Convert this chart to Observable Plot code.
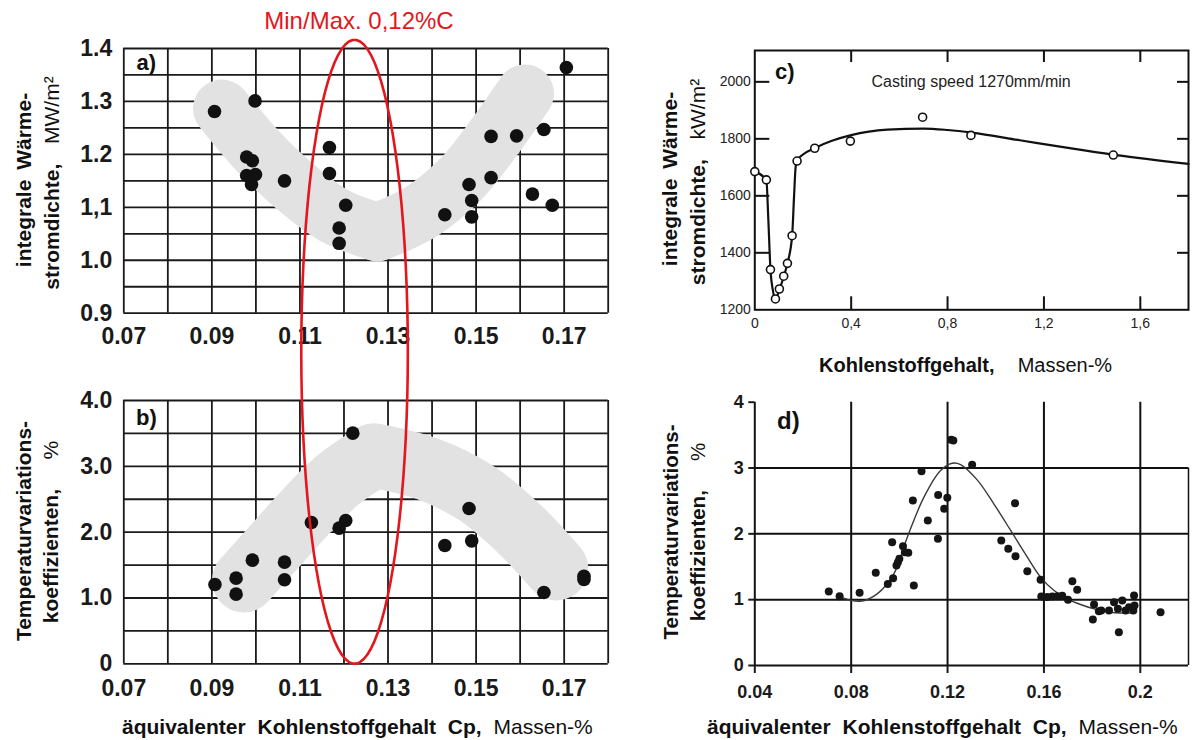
<!DOCTYPE html>
<html><head><meta charset="utf-8">
<script src="https://cdn.jsdelivr.net/npm/d3@7"></script>
<script src="https://cdn.jsdelivr.net/npm/@observablehq/plot@0.6"></script>
<style>
body{margin:0;background:#fff;font-family:"Liberation Sans",Arial,sans-serif;}
#root{position:relative;width:1197px;height:740px;overflow:hidden;background:#fff;}
.pan{position:absolute;}
.lbl{position:absolute;white-space:nowrap;color:#111;font-family:"Liberation Sans",Arial,sans-serif;}
</style></head><body><div id="root"></div><script>
// ---------- panel a ----------
const aX = [0.0906,0.0998,0.0979,0.0992,0.0979,0.0999,0.0990,0.1065,0.1167,0.1167,0.1204,0.1189,0.1189,0.1429,0.1484,0.1490,0.1490,0.1534,0.1534,0.1592,0.1654,0.1628,0.1673,0.1705];
const aY = [1.281,1.301,1.195,1.188,1.160,1.162,1.143,1.150,1.213,1.164,1.104,1.061,1.032,1.086,1.143,1.113,1.082,1.234,1.156,1.235,1.247,1.125,1.104,1.364];
const aBandLeftX = [0.0923,0.1003,0.1086,0.1177,0.1276];
const aBandLeftY = [1.2865,1.2077,1.1415,1.0847,1.053];
const aBandRightX = [0.1276,0.1374,0.1465,0.1541,0.1611];
const aBandRightY = [1.053,1.091,1.153,1.232,1.315];
const aYTicks = [0.9,1.0,1.1,1.2,1.3,1.4];
const aYTickLabels = ["0.9","1.0","1,1","1.2","1.3","1.4"];
const aGridY = [0.9,0.95,1.0,1.05,1.1,1.15,1.2,1.25,1.3,1.35,1.4];
// ---------- panel b ----------
const bX = [0.0907,0.0955,0.0955,0.0992,0.1065,0.1065,0.1126,0.1189,0.1204,0.1220,0.1429,0.1484,0.1490,0.1654,0.1745,0.1745];
const bY = [1.205,1.301,1.058,1.575,1.544,1.276,2.147,2.061,2.177,3.504,1.797,2.359,1.868,1.084,1.33,1.28];
const bBandLeftX = [0.0973,0.1041,0.1109,0.1185,0.1268];
const bBandLeftY = [1.266,1.772,2.278,2.785,3.165];
const bBandRightX = [0.1268,0.1389,0.1503,0.1602,0.1682];
const bBandRightY = [3.165,2.962,2.582,2.025,1.448];
const bYTicks = [0,1,2,3,4];
const bYTickLabels = ["0","1.0","2.0","3.0","4.0"];
const bGridY = [0,0.5,1,1.5,2,2.5,3,3.5,4];
// shared x of a/b
const abXTicks = [0.07,0.09,0.11,0.13,0.15,0.17];
const abXTickLabels = ["0.07","0.09","0.11","0.13","0.15","0.17"];
const abGridX = [0.07,0.08,0.09,0.10,0.11,0.12,0.13,0.14,0.15,0.16,0.17,0.18];
// red Min/Max ellipse (x in carbon %, y in panel-b units)
const ellipseCenterX = 0.1224, ellipseHalfWidth = 0.0121, ellipseBottom = 0, ellipseTop = 9.48;
// ---------- panel c ----------
const cX = [0,0.048,0.065,0.0857,0.102,0.120,0.1354,0.1548,0.1755,0.2488,0.3966,0.6965,0.897,1.488];
const cY = [1685,1656,1341,1238,1273,1318,1363,1460,1722,1767,1792,1876,1812,1743];
const cCurveX = [0,0.048,0.056,0.065,0.075,0.085,0.10,0.12,0.135,0.155,0.163,0.170,0.178,0.20,0.25,0.32,0.40,0.55,0.70,0.80,0.90,1.10,1.30,1.50,1.80];
const cCurveY = [1685,1656,1520,1341,1268,1234,1266,1316,1362,1460,1600,1705,1726,1745,1768,1793,1813,1832,1836,1831,1822,1795,1768,1743,1712];
const cXTicks = [0,0.4,0.8,1.2,1.6];
const cXTickLabels = ["0","0,4","0,8","1,2","1,6"];
const cYTicks = [1200,1400,1600,1800,2000];
const cInnerX = [0.4,0.8,1.2,1.6];
const cInnerY = [1400,1600,1800,2000];
// ---------- panel d ----------
const dX = [0.0707,0.0752,0.0835,0.0902,0.0952,0.0974,0.0970,0.0988,0.0994,0.1000,0.1015,0.1023,0.1037,0.1060,0.1056,0.1092,0.1118,0.1160,0.1161,0.1186,0.1199,0.1215,0.1224,0.1302,0.1423,0.1452,0.1482,0.1480,0.1531,0.1586,0.1589,0.1614,0.1635,0.1656,0.1676,0.1700,0.1718,0.1738,0.1808,0.1803,0.1828,0.1838,0.1870,0.1891,0.1907,0.1911,0.1925,0.1939,0.1953,0.1971,0.1974,0.1976,0.2084];
const dY = [1.124,1.053,1.104,1.408,1.240,1.327,1.873,1.519,1.570,1.620,1.813,1.720,1.711,1.215,2.506,2.952,2.203,1.924,2.592,2.380,2.547,3.428,3.418,3.048,1.899,1.772,1.661,2.466,1.433,1.301,1.048,1.040,1.050,1.053,1.058,0.997,1.281,1.149,0.927,0.699,0.825,0.835,0.835,0.962,0.861,0.506,0.987,0.835,0.886,0.835,1.063,0.911,0.810];
const dCurveX = [0.0755,0.0839,0.0908,0.0977,0.1033,0.1102,0.1171,0.1219,0.1254,0.1323,0.1392,0.1462,0.1531,0.1586,0.1642,0.1697,0.1752,0.1808,0.1877,0.1974];
const dCurveY = [1.04,0.977,1.089,1.392,1.949,2.557,2.962,3.073,3.053,2.820,2.456,2.051,1.646,1.342,1.139,1.013,0.927,0.861,0.810,0.795];
const dXTicks = [0.04,0.08,0.12,0.16,0.2];
const dXTickLabels = ["0.04","0.08","0.12","0.16","0.2"];
const dYTicks = [0,1,2,3,4];
const dGridX = [0.08,0.12,0.16,0.2];
const dGridY = [1,2,3];

const zip = (xs, ys) => xs.map((x, i) => ({x, y: ys[i]}));
const FONT = "'Liberation Sans', Arial, sans-serif";
const INK = "#1a1a1a";
const root = document.getElementById("root");
function put(node, left, top, z = 1) {
  const w = document.createElement("div");
  w.className = "pan";
  w.style.left = left + "px"; w.style.top = top + "px"; w.style.zIndex = z;
  w.appendChild(node); root.appendChild(w);
}
function label(html, x, baseline, fs, {anchor = "start", weight = "normal", color = "#111", ws = 0} = {}) {
  const d = document.createElement("div");
  d.className = "lbl";
  d.innerHTML = html;
  d.style.fontSize = fs + "px"; d.style.lineHeight = fs + "px";
  d.style.fontWeight = weight; d.style.color = color; d.style.wordSpacing = ws + "px";
  d.style.top = (baseline - 0.8465 * fs) + "px";
  d.style.left = x + "px";
  if (anchor === "middle") d.style.transform = "translateX(-50%)";
  d.style.zIndex = 10;
  root.appendChild(d);
}
function vlabel(html, cx, cy, fs, ws = 4) {
  const d = document.createElement("div");
  d.className = "lbl";
  d.innerHTML = html;
  d.style.fontSize = fs + "px"; d.style.lineHeight = fs + "px";
  d.style.wordSpacing = ws + "px";
  d.style.left = cx + "px"; d.style.top = cy + "px";
  d.style.transform = "translate(-50%,-50%) rotate(-90deg)";
  d.style.zIndex = 10;
  root.appendChild(d);
}

// ---- panel a ----
const pa = Plot.plot({
  width: 620, height: 360, marginLeft: 123.3, marginRight: 12.3, marginTop: 48, marginBottom: 47.3,
  x: {domain: [0.07, 0.18]}, y: {domain: [0.9, 1.4]},
  style: {fontFamily: FONT, color: INK, background: "transparent", overflow: "visible"},
  marks: [
    Plot.ruleX(abGridX, {stroke: INK, strokeWidth: 1.8}),
    Plot.ruleY(aGridY, {stroke: INK, strokeWidth: 1.8}),
    Plot.line(zip(aBandLeftX, aBandLeftY), {x: "x", y: "y", stroke: "#e2e2e2", strokeWidth: 58, strokeLinecap: "round", strokeLinejoin: "round", curve: "catmull-rom"}),
    Plot.line(zip(aBandRightX, aBandRightY), {x: "x", y: "y", stroke: "#e2e2e2", strokeWidth: 58, strokeLinecap: "round", strokeLinejoin: "round", curve: "catmull-rom"}),
    Plot.dot(zip(aX, aY), {x: "x", y: "y", r: 6.8, fill: "#111"}),
    Plot.axisX({ticks: abXTicks, tickFormat: d => abXTickLabels[abXTicks.indexOf(d)], tickSize: 0, tickPadding: 14, fontSize: 23, fontWeight: "bold", label: null}),
    Plot.axisY({ticks: aYTicks, tickFormat: d => aYTickLabels[aYTicks.indexOf(d)], tickSize: 0, tickPadding: 11.5, fontSize: 23, fontWeight: "bold", label: null})
  ]
});
put(pa, 0, 0);

// ---- panel b ----
const pb = Plot.plot({
  width: 620, height: 380, marginLeft: 123.3, marginRight: 12.3, marginTop: 40, marginBottom: 76.7,
  x: {domain: [0.07, 0.18]}, y: {domain: [0, 4]},
  style: {fontFamily: FONT, color: INK, background: "transparent", overflow: "visible"},
  marks: [
    Plot.ruleX(abGridX, {stroke: INK, strokeWidth: 1.8}),
    Plot.ruleY(bGridY, {stroke: INK, strokeWidth: 1.8}),
    Plot.line(zip(bBandLeftX, bBandLeftY), {x: "x", y: "y", stroke: "#e2e2e2", strokeWidth: 64, strokeLinecap: "round", strokeLinejoin: "round", curve: "catmull-rom"}),
    Plot.line(zip(bBandRightX, bBandRightY), {x: "x", y: "y", stroke: "#e2e2e2", strokeWidth: 64, strokeLinecap: "round", strokeLinejoin: "round", curve: "catmull-rom"}),
    Plot.dot(zip(bX, bY), {x: "x", y: "y", r: 6.8, fill: "#111"}),
    Plot.axisX({ticks: abXTicks, tickFormat: d => abXTickLabels[abXTicks.indexOf(d)], tickSize: 0, tickPadding: 16, fontSize: 23, fontWeight: "bold", label: null}),
    Plot.axisY({ticks: bYTicks, tickFormat: d => bYTickLabels[bYTicks.indexOf(d)], tickSize: 0, tickPadding: 11.5, fontSize: 23, fontWeight: "bold", label: null})
  ]
});
put(pb, 0, 360);

// ---- red ellipse overlay spanning a and b ----
const ellCY = (ellipseTop + ellipseBottom) / 2, ellRY = (ellipseTop - ellipseBottom) / 2;
const ellipse = d3.range(0, 361, 4).map(t => ({
  x: ellipseCenterX + ellipseHalfWidth * Math.cos(t * Math.PI / 180),
  y: ellCY + ellRY * Math.sin(t * Math.PI / 180)
}));
const po = Plot.plot({
  width: 620, height: 740, marginLeft: 123.3, marginRight: 12.3,
  x: {domain: [0.07, 0.18], axis: null},
  y: {domain: [0, 4], range: [663.3, 400], axis: null},
  style: {background: "transparent", overflow: "visible"},
  marks: [Plot.line(ellipse, {x: "x", y: "y", stroke: "#e3161d", strokeWidth: 2.6})]
});
put(po, 0, 0, 5);

// ---- panel c ----
const cFrameW = 557 - 114.3 - 9, cFrameH = 380 - 50 - 70.7;
const pc = Plot.plot({
  width: 557, height: 380, marginLeft: 114.3, marginRight: 9, marginTop: 50, marginBottom: 70.7,
  x: {domain: [0, 1.8]}, y: {domain: [1200, 2110]},
  style: {fontFamily: FONT, color: "#222", background: "transparent", overflow: "visible"},
  marks: [
    Plot.frame({stroke: "#111", strokeWidth: 2}),
    Plot.ruleX(cInnerX, {stroke: "#111", strokeWidth: 2, insetTop: cFrameH - 13}),
    Plot.ruleX(cInnerX, {stroke: "#111", strokeWidth: 2, insetBottom: cFrameH - 12}),
    Plot.ruleY(cInnerY, {stroke: "#111", strokeWidth: 2, insetRight: cFrameW - 15}),
    Plot.ruleY(cInnerY, {stroke: "#111", strokeWidth: 2, insetLeft: cFrameW - 11}),
    Plot.axisX({ticks: cXTicks, tickFormat: d => cXTickLabels[cXTicks.indexOf(d)], tickSize: 0, tickPadding: 8, fontSize: 14, label: null}),
    Plot.axisY({ticks: cYTicks, tickFormat: d => String(d), tickSize: 0, tickPadding: 4, fontSize: 14, label: null}),
    Plot.line(zip(cCurveX, cCurveY), {x: "x", y: "y", stroke: "#111", strokeWidth: 2.2, curve: "monotone-x"}),
    Plot.dot(zip(cX, cY), {x: "x", y: "y", r: 4, fill: "white", stroke: "#111", strokeWidth: 1.6})
  ]
});
put(pc, 640, 0);

// ---- panel d ----
const pd = Plot.plot({
  width: 557, height: 360, marginLeft: 114.3, marginRight: 9, marginTop: 21.7, marginBottom: 75,
  x: {domain: [0.04, 0.22]}, y: {domain: [0, 4]},
  style: {fontFamily: FONT, color: INK, background: "transparent", overflow: "visible"},
  marks: [
    Plot.ruleX(dGridX, {stroke: "#111", strokeWidth: 2}),
    Plot.ruleY(dGridY, {stroke: "#111", strokeWidth: 2}),
    Plot.ruleX([0.22], {y1: 0, y2: 3, stroke: "#111", strokeWidth: 1.5}),
    Plot.ruleX([0.04], {stroke: "#111", strokeWidth: 2}),
    Plot.ruleY([0], {stroke: "#111", strokeWidth: 2}),
    Plot.axisX({ticks: dXTicks, tickFormat: d => dXTickLabels[dXTicks.indexOf(d)], tickSize: 8, tickPadding: 12, strokeWidth: 2, fontSize: 18, fontWeight: "bold", label: null}),
    Plot.axisY({ticks: dYTicks, tickFormat: d => String(d), tickSize: 6, tickPadding: 5, strokeWidth: 2, fontSize: 18, fontWeight: "bold", label: null}),
    Plot.line(zip(dCurveX, dCurveY), {x: "x", y: "y", stroke: "#3a3a3a", strokeWidth: 1.4, curve: "catmull-rom"}),
    Plot.dot(zip(dX, dY), {x: "x", y: "y", r: 4, fill: "#151515"})
  ]
});
put(pd, 640, 380);

// ---- texts ----
label("Min/Max. 0,12%C", 359, 29, 24, {anchor: "middle", color: "#e3161d"});
label("a)", 136.5, 71, 22, {weight: "bold"});
label("b)", 136, 426, 22, {weight: "bold"});
label("c)", 775, 80, 22, {weight: "bold"});
label("d)", 777, 429, 24, {weight: "bold"});
label("Casting speed 1270mm/min", 871.5, 88, 16, {color: "#222"});
label("<b>äquivalenter Kohlenstoffgehalt Cp,</b> Massen-%", 122, 734, 21, {ws: 6});
label("<b>äquivalenter Kohlenstoffgehalt Cp,</b> Massen-%", 707, 734, 21, {ws: 6});
label("<b>Kohlenstoffgehalt,</b>&nbsp; Massen-%", 819, 372, 20, {ws: 6});
vlabel("<b>integrale Wärme-</b>", 23, 180, 21);
vlabel("<b>stromdichte,</b>&nbsp; MW/m²", 51, 183, 21);
vlabel("<b>Temperaturvariations-</b>", 23, 531, 21);
vlabel("<b>koeffizienten,</b>&nbsp;&nbsp; %", 50, 532, 21);
vlabel("<b>integrale Wärme-</b>", 669, 179, 21);
vlabel("<b>stromdichte,</b>&nbsp; kW/m²", 697, 182, 21);
vlabel("<b>Temperaturvariations-</b>", 671, 532, 20.5);
vlabel("<b>koeffizienten,</b>&nbsp;&nbsp; %", 698, 532, 20.5);
</script></body></html>
